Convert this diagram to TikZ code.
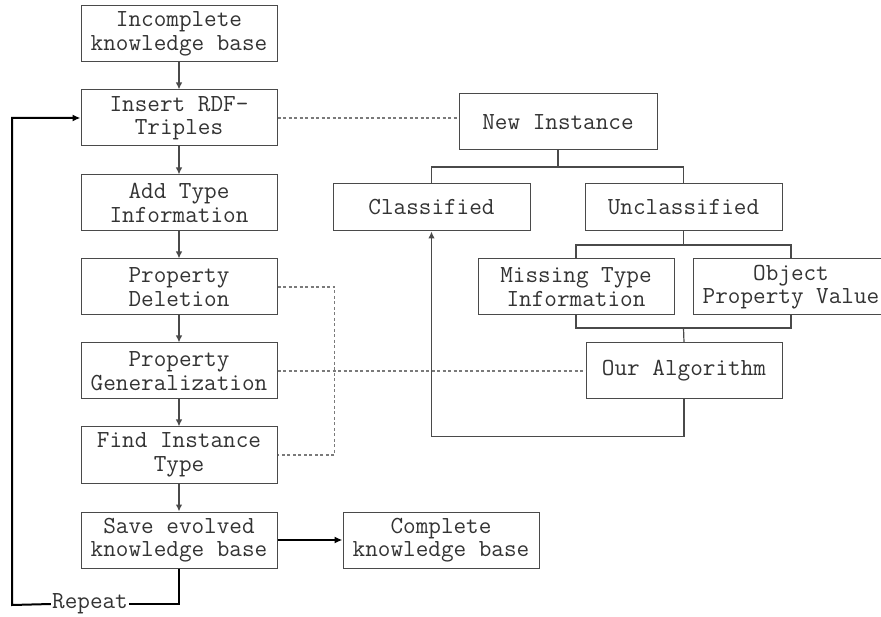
\documentclass[tikz,border=0pt]{standalone}
\usetikzlibrary{arrows.meta}
\definecolor{boxc}{HTML}{4A4A4A}
\definecolor{txtc}{HTML}{333333}
\definecolor{dotc}{HTML}{7A7A7A}
\begin{document}
\begin{tikzpicture}[x=1pt,y=-1pt,
  box/.style={draw=boxc,line width=1pt,rectangle,minimum width=196pt,minimum height=56pt,inner sep=0pt,align=center,font=\fontsize{24.5}{23.5}\ttfamily,text=txtc},
  flow/.style={draw=boxc,line width=1.2pt,-{Latex[length=7pt,width=6.5pt]}},
  tree/.style={draw=boxc,line width=1.2pt},
  dots/.style={draw=dotc,line width=1.2pt,dash pattern=on 3pt off 2.5pt},
  bold/.style={draw=black,line width=2pt},
  boldarrow/.style={draw=black,line width=2pt,-{Latex[length=8pt,width=7pt]}}]
\useasboundingbox (0,0) rectangle (881,617);
\clip (0,0) rectangle (881,617);
\fill[white] (0,0) rectangle (881,617);
% left column
\node[box] (ikb) at (179,34) {Incomplete\\knowledge base};
\node[box] (ins) at (179,118) {Insert RDF-\\Triples};
\node[box] (ati) at (179,203) {Add Type\\Information};
\node[box] (pd) at (179,287) {Property\\Deletion};
\node[box] (pg) at (179,371) {Property\\Generalization};
\node[box] (fit) at (179,455) {Find Instance\\Type};
\node[box] (save) at (179,540) {Save evolved\\knowledge base};
\node[box] (comp) at (441,540) {Complete\\knowledge base};
% right part
\node[box,minimum width=198pt] (ni) at (558,122) {New Instance};
\node[box,minimum width=197pt,minimum height=47pt] (cls) at (431.5,207.5) {Classified};
\node[box,minimum width=197pt,minimum height=47pt] (uncl) at (683.5,207.5) {Unclassified};
\node[box] (miss) at (576,287) {Missing Type\\Information};
\node[box] (opv) at (791,287) {Object\\Property Value};
\node[box] (oa) at (684,371) {Our Algorithm};
\node[font=\fontsize{24.5}{23.5}\ttfamily,text=txtc,inner sep=1pt] (rep) at (90,604) {Repeat};
% flow arrows
\draw[flow] (ikb) -- (ins);
\draw[flow] (ins) -- (ati);
\draw[flow] (ati) -- (pd);
\draw[flow] (pd) -- (pg);
\draw[flow] (pg) -- (fit);
\draw[flow] (fit) -- (save);
\draw[boldarrow] (save) -- (comp);
% repeat loop
\coordinate (lp) at (12,605);
\draw[bold] (save.south) |- (rep.east);
\draw[boldarrow] (rep.west) -- (lp) |- (ins.west);
% tree
\coordinate (j1) at (558,167);
\coordinate (j2) at (683.5,245);
\coordinate (j3) at (683.5,328);
\draw[tree] (ni.south) -- (j1);
\draw[tree] (cls.north) |- (j1) -| (uncl.north);
\draw[tree] (uncl.south) -- (j2);
\draw[tree] (miss.north) |- (j2) -| (opv.north);
\draw[tree] (miss.south) |- (j3) -| (opv.south);
\draw[tree] (j3) -- (oa.north);
\draw[flow] (oa.south) -- ++(0,37) -| (cls.south);
% dotted
\draw[dots] (ins.east) -- (ins.east -| ni.west);
\draw[dots] (pg.east) -- (oa.west);
\draw[dots] (pd.east) -- ++(57,0) |- (fit.east);
\end{tikzpicture}
\end{document}
